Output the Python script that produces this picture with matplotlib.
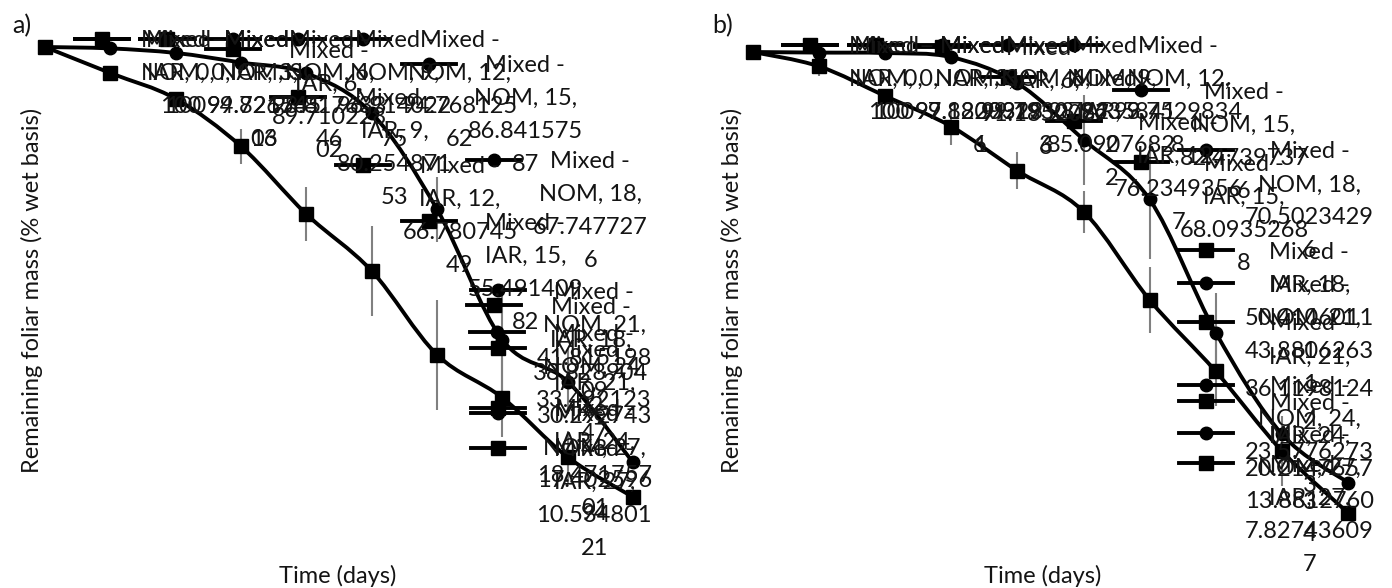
import numpy as np
import matplotlib.pyplot as plt
from matplotlib.path import Path
from matplotlib.patches import PathPatch
from matplotlib.lines import Line2D
from matplotlib.transforms import IdentityTransform

plt.rcParams['font.family'] = ['Lato', 'DejaVu Sans']

# ----------------------------
# data
# ----------------------------
days = [0, 3, 6, 9, 12, 15, 18, 21, 24, 27]

a_nom = [100, 99.72154106, 98.81763346, 96.91402275, 94.76812562, 86.84157587,
         67.7477276, 41.81519809, 33.49212347, 17.40259694]
a_iar = [100, 94.82676513, 89.71022802, 80.25487153, 66.78074549, 55.49140982,
         38.82890422, 30.29274343, 18.47175701, 10.53480121]
a_nom_err = [0, 0, 0, 0, 0, 0, 6.5, 11, 6.4, 0]
a_iar_err = [0, 0, 0, 3.5, 5.4, 9.0, 10.9, 7.8, 5.2, 0]

b_nom = [100, 99.88203291, 99.79307823, 98.96358412, 93.75298348, 82.47397376,
         70.50234296, 43.88062631, 23.57762733, 13.88127604]
b_iar = [100, 97.12099136, 91.18520876, 85.09076822, 76.23493567, 68.09352688,
         50.41060111, 36.11981242, 20.21476573, 7.827436097]
b_nom_err = [0, 0, 0, 0, 0, 9, 12, 8, 0, 0]
b_iar_err = [0, 2, 0, 3.6, 3.7, 4.2, 6.6, 7, 7, 0]

series_names = ["Mixed - NOM", "Mixed - IAR"]
markers = ["o", "s"]
marker_sizes = [9, 10.5]

W, H = 1392, 588
LABEL_FS = 17
LINE_H = 33
KEY_W = 54
GAP = 12
TXT = '#141414'

fig = plt.figure(figsize=(W / 100, H / 100), dpi=100)


def px_axes(left, top, right, bottom):
    return fig.add_axes([left / W, 1 - bottom / H, (right - left) / W, (bottom - top) / H])


def smooth_path(xs, ys):
    # Excel-like smoothed line: cubic Bezier through points (Catmull-Rom, t = 1/6)
    p = np.column_stack([xs, ys]).astype(float)
    n = len(p)
    verts = [p[0]]
    codes = [Path.MOVETO]
    for i in range(n - 1):
        p0 = p[i - 1] if i > 0 else p[i]
        p3 = p[i + 2] if i + 2 < n else p[i + 1]
        c1 = p[i] + (p[i + 1] - p0) / 6
        c2 = p[i + 1] - (p3 - p[i]) / 6
        verts += [c1, c2, p[i + 1]]
        codes += [Path.CURVE4] * 3
    return Path(verts, codes)


def wrap_label(text, width):
    lines, cur = [], ""
    for word in text.split(" "):
        cand = word if not cur else cur + " " + word
        if len(cand) <= width:
            cur = cand
            continue
        if cur:
            lines.append(cur)
        while len(word) > width:
            lines.append(word[:width])
            word = word[width:]
        cur = word
    if cur:
        lines.append(cur)
    return lines


def draw_panel(ax, nom, nom_err, iar, iar_err):
    ax.set_xlim(0, 27)
    ax.set_ylim(0, 100)
    ax.set_xticks([])
    ax.set_yticks([])
    for s in ax.spines.values():
        s.set_visible(False)
    for vals, err, m, ms in zip([nom, iar], [nom_err, iar_err], markers, marker_sizes):
        ax.errorbar(days, vals, yerr=err, fmt='none', ecolor='#808080',
                    elinewidth=1.5, capsize=0, zorder=1, clip_on=False)
        ax.add_patch(PathPatch(smooth_path(days, vals), fill=False, ec='black',
                               lw=2.8, zorder=2, clip_on=False))
        ax.plot(days, vals, ls='none', marker=m, ms=ms, color='black',
                zorder=3, clip_on=False)


def add_labels(ax, all_vals, wrap, right_px, top_px):
    r = fig.canvas.get_renderer()
    for name, vals, m, ms in zip(series_names, all_vals, markers, marker_sizes):
        for d, v in zip(days, vals):
            px, py = ax.transData.transform((d, v))
            lines = wrap_label(f"{name}, {d}, {v:.10g}", wrap)
            texts = [fig.text(0, 0, s, transform=IdentityTransform(), ha='center',
                              va='center_baseline', fontsize=LABEL_FS, color=TXT)
                     for s in lines]
            w = max(t.get_window_extent(r).width for t in texts)
            left = px + 30
            if left + KEY_W + GAP + w > right_px:
                left = right_px - (KEY_W + GAP + w)
            first = py + (len(lines) - 1) / 2 * LINE_H
            if first + LINE_H / 2 > H - top_px:
                first = H - top_px - LINE_H / 2
            for i, t in enumerate(texts):
                t.set_position((left + KEY_W + GAP + w / 2, first - i * LINE_H))
            fig.add_artist(Line2D([left, left + KEY_W], [first, first], color='black',
                                  lw=2.8, transform=IdentityTransform()))
            fig.add_artist(Line2D([left + KEY_W / 2], [first], color='black', marker=m,
                                  ms=ms, transform=IdentityTransform()))


ax_a = px_axes(45, 47, 633, 550)
ax_b = px_axes(753, 52, 1348, 552)
draw_panel(ax_a, a_nom, a_nom_err, a_iar, a_iar_err)
draw_panel(ax_b, b_nom, b_nom_err, b_iar, b_iar_err)

fig.canvas.draw()
add_labels(ax_a, [a_nom, a_iar], 9, 652, 22)
add_labels(ax_b, [b_nom, b_iar], 10, 1374, 28)

# titles
for x0, letter, xt in [(0, "a)", 338), (700, "b)", 1043)]:
    fig.text((x0 + 12) / W, 1 - 26 / H, letter, ha='left', va='center', fontsize=18, color=TXT)
    fig.text((x0 + 32) / W, 1 - 290 / H, "Remaining foliar mass (% wet basis)",
             rotation=90, ha='center', va='center', fontsize=17, color=TXT)
    fig.text(xt / W, 1 - 576 / H, "Time (days)", ha='center', va='center',
             fontsize=17, color=TXT)

fig.savefig("out.png", dpi=100)
